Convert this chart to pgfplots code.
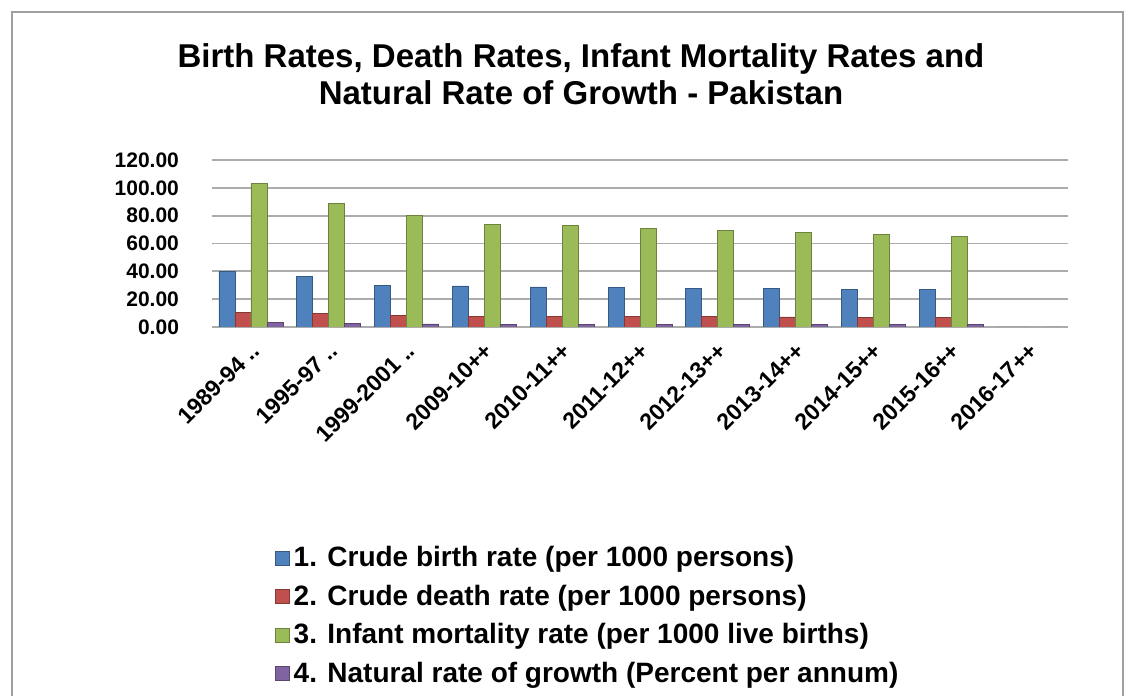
\documentclass[border=0pt]{standalone}
\usepackage{fontspec}
\setmainfont{Liberation Sans}
\usepackage{pgfplots}
\pgfplotsset{compat=1.18}
\definecolor{cblue}{HTML}{4F81BD}
\definecolor{cred}{HTML}{C0504D}
\definecolor{cgreen}{HTML}{9BBB59}
\definecolor{cpurple}{HTML}{8064A2}
\pgfplotsset{sq/.style={legend image code/.code={\fill[##1] (0pt,-3.5pt) rectangle (7pt,3.5pt);}}}
\begin{document}
\begin{tikzpicture}
\path[use as bounding box] (0,0) rectangle (568pt,348pt);
\draw[gray!75, line width=1.3pt] (6pt,-10pt) -- (6pt,342pt) -- (561.5pt,342pt) -- (561.5pt,-10pt);
\node[font=\fontsize{16.5}{18.5}\selectfont\bfseries, align=center] at (290.5pt,311pt) {Birth Rates, Death Rates, Infant Mortality Rates and\\Natural Rate of Growth - Pakistan};
\begin{axis}[
 at={(106pt,184.5pt)}, anchor=south west, scale only axis, width=428pt, height=83.5pt,
 ybar=0pt, bar width=8pt,
 xmin=-0.5, xmax=10.5, ymin=0, ymax=120, ytick={0,20,...,120},
 xtick={0,...,10},
 xticklabels={1989-94 .., 1995-97 .., 1999-2001 .., 2009-10++, 2010-11++, 2011-12++, 2012-13++, 2013-14++, 2014-15++, 2015-16++, 2016-17++},
 xticklabel style={rotate=45, anchor=north east, font=\fontsize{11.5}{12}\selectfont\bfseries, xshift=-2pt, yshift=-1pt},
 yticklabel style={font=\fontsize{10.5}{12}\selectfont\bfseries, xshift=-13pt},
 /pgf/number format/assume math mode=true,
 yticklabel={\pgfmathprintnumber[fixed, fixed zerofill, precision=2]{\tick}},
 axis line style={draw=none}, major tick length=0pt,
 ymajorgrids, grid style={gray!65, line width=0.9pt},
 legend style={at={(axis description cs:0.066,-1.265)}, anchor=north west, draw=none, fill=none,
   font=\fontsize{14}{14.5}\selectfont\bfseries, row sep=3.6pt},
 legend cell align=left,
]
\addplot[sq, draw=cblue!70!black, fill=cblue] coordinates {(0,40.0) (1,36.0) (2,30.0) (3,29.5) (4,28.8) (5,28.3) (6,27.8) (7,27.5) (8,27.2) (9,26.8) (10,0)};
\addplot[sq, draw=cred!70!black, fill=cred] coordinates {(0,10.5) (1,9.5) (2,8.5) (3,7.8) (4,7.6) (5,7.4) (6,7.3) (7,7.2) (8,7.1) (9,7.0) (10,0)};
\addplot[sq, draw=cgreen!70!black, fill=cgreen] coordinates {(0,103) (1,89) (2,80) (3,74) (4,73) (5,71) (6,69.5) (7,68) (8,66.5) (9,65) (10,0)};
\addplot[sq, draw=cpurple!70!black, fill=cpurple] coordinates {(0,3.0) (1,2.7) (2,2.2) (3,2.0) (4,2.0) (5,2.0) (6,2.0) (7,2.0) (8,2.0) (9,2.0) (10,0)};
\legend{1. Crude birth rate (per 1000 persons), 2. Crude death rate (per 1000 persons), 3. Infant mortality rate (per 1000 live births), 4. Natural rate of growth (Percent per annum)}
\pgfplotsinvokeforeach{0,20,40,60,80,100,120}{\draw[gray!70, line width=0.9pt] (axis cs:-0.5,#1) -- ++(-7pt,-5pt);}
\end{axis}
\end{tikzpicture}
\end{document}
